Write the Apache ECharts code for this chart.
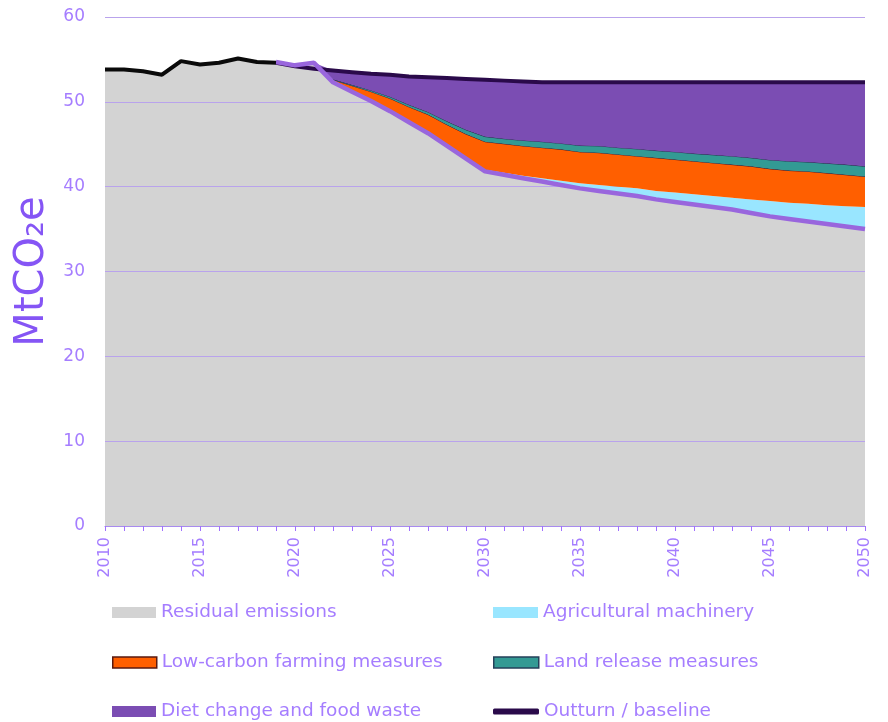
<!DOCTYPE html>
<html>
<head>
<meta charset="utf-8">
<script src="https://cdn.jsdelivr.net/npm/echarts@6/dist/echarts.min.js"></script>
<style>
html,body{margin:0;padding:0;background:#fff;}
#c{width:888px;height:722px;}
</style>
</head>
<body>
<div id="c"></div>
<script>
var years = [];
for (var y = 2010; y <= 2050; y++) years.push(String(y));

var residual = [53.8,53.8,53.6,53.2,54.8,54.4,54.6,55.1,54.7,54.7,
  54.3,54.6,52.3,51.2,50.1,48.9,47.6,46.3,44.8,43.3,
  41.8,41.4,41.0,40.6,40.2,39.8,39.5,39.2,38.9,38.5,
  38.2,37.9,37.6,37.3,36.9,36.5,36.2,35.9,35.6,35.3,35.0];

var machinery = [null,null,null,null,null,null,null,null,null,null,
  null,0,0,0,0,0,0,0,0,0,
  0.2,0.25,0.3,0.4,0.5,0.6,0.7,0.8,0.9,1.0,
  1.1,1.2,1.3,1.4,1.6,1.8,1.9,2.1,2.2,2.4,2.6];

var lowCarbon = [null,null,null,null,null,null,null,null,null,null,
  null,0,0.3,0.7,1.1,1.5,1.8,2.2,2.5,2.9,
  3.3,3.4,3.5,3.6,3.7,3.7,3.8,3.8,3.8,3.9,
  3.9,3.9,3.9,3.9,3.9,3.8,3.8,3.8,3.8,3.7,3.6];

var landRelease = [null,null,null,null,null,null,null,null,null,null,
  null,0,0.05,0.1,0.15,0.2,0.25,0.3,0.4,0.5,
  0.6,0.6,0.65,0.7,0.7,0.75,0.8,0.8,0.85,0.85,
  0.9,0.9,0.95,1.0,1.0,1.05,1.1,1.1,1.15,1.2,1.2];

var dietChange = [null,null,null,null,null,null,null,null,null,null,
  null,0,1.05,1.5,1.95,2.6,3.35,4.1,5.1,6.0,
  6.7,6.85,6.95,7.0,7.2,7.45,7.5,7.7,7.85,8.05,
  8.2,8.4,8.55,8.7,8.9,9.15,9.3,9.4,9.55,9.7,9.9];

var outturn = [53.8,53.8,53.6,53.2,54.8,54.4,54.6,55.1,54.7,54.6,
  null,null,null,null,null,null,null,null,null,null,
  null,null,null,null,null,null,null,null,null,null,
  null,null,null,null,null,null,null,null,null,null,null];

var baseline = [null,null,null,null,null,null,null,null,null,54.6,
  54.2,53.9,53.7,53.5,53.3,53.2,53.0,52.9,52.8,52.7,
  52.6,52.5,52.4,52.3,52.3,52.3,52.3,52.3,52.3,52.3,
  52.3,52.3,52.3,52.3,52.3,52.3,52.3,52.3,52.3,52.3,52.3];

var yTicks = [0,10,20,30,40,50,60];

var FONT = 'DejaVu Sans';
var TXT = '#A57DFF';

var names = ['Residual emissions','Agricultural machinery','Low-carbon farming measures',
  'Land release measures','Diet change and food waste','Outturn / baseline'];

function leg(name, left, top, style, icon, w, h) {
  return {
    data: [{name: name, icon: icon || 'rect', itemStyle: style}],
    left: left, top: top, itemWidth: w || 44, itemHeight: h || 11, itemGap: 0,
    selectedMode: false,
    textStyle: {color: TXT, fontFamily: FONT, fontSize: 18.5}
  };
}

// residual top outline (drawn above the stacked areas), from 2019 onward
var residualLine = residual.map(function (v, i) { return i >= 9 ? v : null; });

var chart = echarts.init(document.getElementById('c'), null, {renderer: 'canvas'});
chart.setOption({
  animation: false,
  grid: {left: 105, right: 23, top: 17, bottom: 196, containLabel: false, outerBoundsMode: 'none'},
  legend: [
    leg(names[0], 107, 598, {color: '#D3D3D3', borderWidth: 0}),
    leg(names[1], 488, 598, {color: '#99E6FF', borderWidth: 0}, 'rect', 45),
    leg(names[2], 107, 648, {color: '#FF5F00', borderColor: '#5A1A10', borderWidth: 1.5}),
    leg(names[3], 488, 648, {color: '#339A94', borderColor: '#25405A', borderWidth: 1.5}, 'rect', 45),
    leg(names[4], 107, 697, {color: '#7B4DB3', borderWidth: 0}),
    leg(names[5], 488, 697, {color: '#2A0A4A', borderWidth: 0}, 'roundRect', 46, 6)
  ],
  xAxis: {
    type: 'category', data: years, boundaryGap: false,
    axisLine: {show: true, lineStyle: {color: '#A88BEF', width: 1.2}},
    axisTick: {show: true, interval: 0, length: 5, inside: false, lineStyle: {color: '#A070FF'}},
    axisLabel: {interval: 4, rotate: 90, color: TXT, fontFamily: FONT, fontSize: 16, margin: 11},
    splitLine: {show: false}
  },
  yAxis: {
    type: 'value', min: 0, max: 60, interval: 10,
    name: 'MtCO\u2082e', nameLocation: 'middle', nameRotate: 90, nameGap: 52,
    nameTextStyle: {color: '#8555F5', fontFamily: FONT, fontSize: 40},
    axisLine: {show: false}, axisTick: {show: false},
    axisLabel: {color: TXT, fontFamily: FONT, fontSize: 17, margin: 20,
      formatter: function (v) { return yTicks.indexOf(v) >= 0 ? String(v) : ''; }},
    splitLine: {show: true, lineStyle: {color: '#B9A3EC', width: 1.2}}
  },
  series: [
    {name: names[0], type: 'line', stack: 'a', data: residual, symbol: 'none', z: -1,
      lineStyle: {width: 0}, itemStyle: {color: '#D3D3D3'},
      areaStyle: {color: '#D3D3D3', opacity: 1}},
    {name: names[1], type: 'line', stack: 'a', data: machinery, symbol: 'none', z: 2,
      lineStyle: {width: 0}, itemStyle: {color: '#99E6FF'},
      areaStyle: {color: '#99E6FF', opacity: 1}},
    {name: names[2], type: 'line', stack: 'a', data: lowCarbon, symbol: 'none', z: 3,
      lineStyle: {width: 1, color: '#3A1530'}, itemStyle: {color: '#FF5F00'},
      areaStyle: {color: '#FF5F00', opacity: 1}},
    {name: names[3], type: 'line', stack: 'a', data: landRelease, symbol: 'none', z: 4,
      lineStyle: {width: 1, color: '#2A2A50'}, itemStyle: {color: '#339A94'},
      areaStyle: {color: '#339A94', opacity: 1}},
    {name: names[4], type: 'line', stack: 'a', data: dietChange, symbol: 'none', z: 5,
      lineStyle: {width: 0}, itemStyle: {color: '#7B4DB3'},
      areaStyle: {color: '#7B4DB3', opacity: 1}},
    {name: names[5], type: 'line', data: baseline, symbol: 'none', z: 6,
      lineStyle: {color: '#2A0A4A', width: 4}, itemStyle: {color: '#2A0A4A'}},
    {name: 'Residual outline', type: 'line', data: residualLine, symbol: 'none', z: 7,
      lineStyle: {color: '#9966DD', width: 4.5}, itemStyle: {color: '#9966DD'}},
    {name: 'Outturn', type: 'line', data: outturn, symbol: 'none', z: 8,
      lineStyle: {color: '#0A0A0A', width: 4}, itemStyle: {color: '#0A0A0A'}}
  ]
});
</script>
</body>
</html>
